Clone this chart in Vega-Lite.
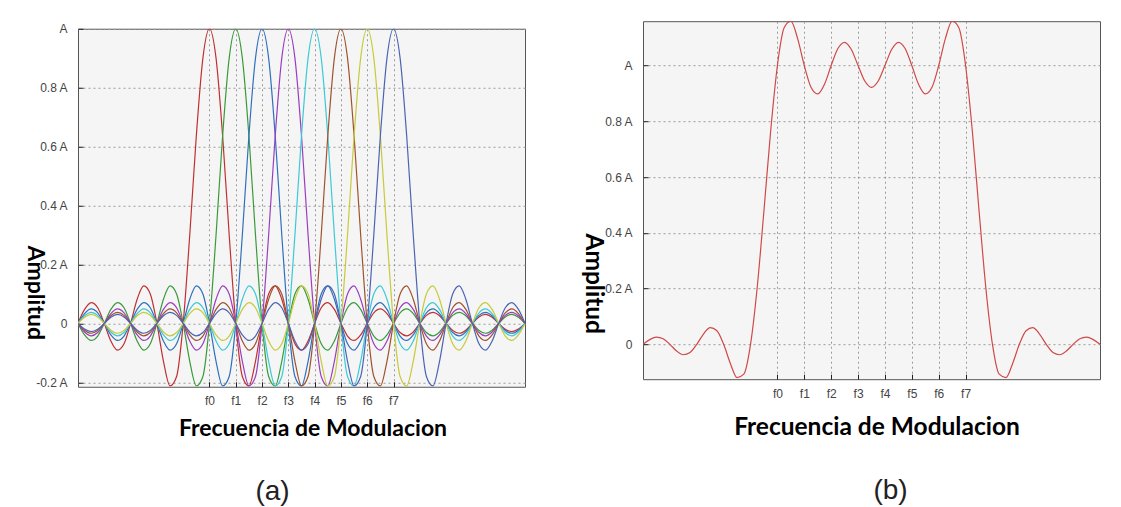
{
  "$schema": "https://vega.github.io/schema/vega-lite/v6.json",
  "background": "white",
  "padding": {"left": 21, "top": 20, "right": 5, "bottom": 0},
  "spacing": 54,
  "center": true,
  "config": {
    "font": "Liberation Sans",
    "view": {"fill": "#f4f5f4", "stroke": "#555", "strokeWidth": 1},
    "axis": {
      "domain": false,
      "labelFont": "Liberation Sans",
      "labelFontSize": 12,
      "labelColor": "#444",
      "tickColor": "#222",
      "tickSize": -5,
      "gridColor": "#9a9a9a",
      "gridDash": [2, 3],
      "gridWidth": 1,
      "titleFont": "Lato",
      "titleFontWeight": "bold",
      "titleColor": "#000"
    }
  },
  "resolve": {"scale": {"x": "independent", "y": "independent", "color": "independent"}},
  "datasets": {
    "d": [
      {"x": -5, "y0": 0, "y1": 0, "y2": 0, "y3": 0, "y4": 0, "y5": 0, "y6": 0, "y7": 0, "s": 0},
      {"x": -4.75, "y0": 0.0474, "y1": -0.0391, "y2": 0.0333, "y3": -0.029, "y4": 0.0257, "y5": -0.0231, "y6": 0.0209, "y7": -0.0192, "s": 0.017},
      {"x": -4.5, "y0": 0.0707, "y1": -0.0579, "y2": 0.049, "y3": -0.0424, "y4": 0.0374, "y5": -0.0335, "y6": 0.0303, "y7": -0.0277, "s": 0.026},
      {"x": -4.25, "y0": 0.053, "y1": -0.0429, "y2": 0.036, "y3": -0.031, "y4": 0.0273, "y5": -0.0243, "y6": 0.022, "y7": -0.02, "s": 0.02},
      {"x": -4, "y0": 0, "y1": 0, "y2": 0, "y3": 0, "y4": 0, "y5": 0, "y6": 0, "y7": 0, "s": 0},
      {"x": -3.75, "y0": -0.06, "y1": 0.0474, "y2": -0.0391, "y3": 0.0333, "y4": -0.029, "y5": 0.0257, "y6": -0.0231, "y7": 0.0209, "s": -0.0239},
      {"x": -3.5, "y0": -0.0909, "y1": 0.0707, "y2": -0.0579, "y3": 0.049, "y4": -0.0424, "y5": 0.0374, "y6": -0.0335, "y7": 0.0303, "s": -0.0373},
      {"x": -3.25, "y0": -0.0693, "y1": 0.053, "y2": -0.0429, "y3": 0.036, "y4": -0.031, "y5": 0.0273, "y6": -0.0243, "y7": 0.022, "s": -0.0293},
      {"x": -3, "y0": 0, "y1": 0, "y2": 0, "y3": 0, "y4": 0, "y5": 0, "y6": 0, "y7": 0, "s": 0},
      {"x": -2.75, "y0": 0.0818, "y1": -0.06, "y2": 0.0474, "y3": -0.0391, "y4": 0.0333, "y5": -0.029, "y6": 0.0257, "y7": -0.0231, "s": 0.037},
      {"x": -2.5, "y0": 0.1273, "y1": -0.0909, "y2": 0.0707, "y3": -0.0579, "y4": 0.049, "y5": -0.0424, "y6": 0.0374, "y7": -0.0335, "s": 0.0597},
      {"x": -2.25, "y0": 0.1, "y1": -0.0693, "y2": 0.053, "y3": -0.0429, "y4": 0.036, "y5": -0.031, "y6": 0.0273, "y7": -0.0243, "s": 0.0488},
      {"x": -2, "y0": 0, "y1": 0, "y2": 0, "y3": 0, "y4": 0, "y5": 0, "y6": 0, "y7": 0, "s": 0},
      {"x": -1.75, "y0": -0.1286, "y1": 0.0818, "y2": -0.06, "y3": 0.0474, "y4": -0.0391, "y5": 0.0333, "y6": -0.029, "y7": 0.0257, "s": -0.0685},
      {"x": -1.5, "y0": -0.2122, "y1": 0.1273, "y2": -0.0909, "y3": 0.0707, "y4": -0.0579, "y5": 0.049, "y6": -0.0424, "y7": 0.0374, "s": -0.119},
      {"x": -1.25, "y0": -0.1801, "y1": 0.1, "y2": -0.0693, "y3": 0.053, "y4": -0.0429, "y5": 0.036, "y6": -0.031, "y7": 0.0273, "s": -0.107},
      {"x": -1, "y0": 0, "y1": 0, "y2": 0, "y3": 0, "y4": 0, "y5": 0, "y6": 0, "y7": 0, "s": 0},
      {"x": -0.75, "y0": 0.3001, "y1": -0.1286, "y2": 0.0818, "y3": -0.06, "y4": 0.0474, "y5": -0.0391, "y6": 0.0333, "y7": -0.029, "s": 0.2059},
      {"x": -0.5, "y0": 0.6366, "y1": -0.2122, "y2": 0.1273, "y3": -0.0909, "y4": 0.0707, "y5": -0.0579, "y6": 0.049, "y7": -0.0424, "s": 0.4802},
      {"x": -0.25, "y0": 0.9003, "y1": -0.1801, "y2": 0.1, "y3": -0.0693, "y4": 0.053, "y5": -0.0429, "y6": 0.036, "y7": -0.031, "s": 0.7661},
      {"x": 0, "y0": 1, "y1": 0, "y2": 0, "y3": 0, "y4": 0, "y5": 0, "y6": 0, "y7": 0, "s": 1},
      {"x": 0.25, "y0": 0.9003, "y1": 0.3001, "y2": -0.1286, "y3": 0.0818, "y4": -0.06, "y5": 0.0474, "y6": -0.0391, "y7": 0.0333, "s": 1.1352},
      {"x": 0.5, "y0": 0.6366, "y1": 0.6366, "y2": -0.2122, "y3": 0.1273, "y4": -0.0909, "y5": 0.0707, "y6": -0.0579, "y7": 0.049, "s": 1.1592},
      {"x": 0.75, "y0": 0.3001, "y1": 0.9003, "y2": -0.1801, "y3": 0.1, "y4": -0.0693, "y5": 0.053, "y6": -0.0429, "y7": 0.036, "s": 1.0973},
      {"x": 1, "y0": 0, "y1": 1, "y2": 0, "y3": 0, "y4": 0, "y5": 0, "y6": 0, "y7": 0, "s": 1},
      {"x": 1.25, "y0": -0.1801, "y1": 0.9003, "y2": 0.3001, "y3": -0.1286, "y4": 0.0818, "y5": -0.06, "y6": 0.0474, "y7": -0.0391, "s": 0.9218},
      {"x": 1.5, "y0": -0.2122, "y1": 0.6366, "y2": 0.6366, "y3": -0.2122, "y4": 0.1273, "y5": -0.0909, "y6": 0.0707, "y7": -0.0579, "s": 0.8981},
      {"x": 1.75, "y0": -0.1286, "y1": 0.3001, "y2": 0.9003, "y3": -0.1801, "y4": 0.1, "y5": -0.0693, "y6": 0.053, "y7": -0.0429, "s": 0.9326},
      {"x": 2, "y0": 0, "y1": 0, "y2": 1, "y3": 0, "y4": 0, "y5": 0, "y6": 0, "y7": 0, "s": 1},
      {"x": 2.25, "y0": 0.1, "y1": -0.1801, "y2": 0.9003, "y3": 0.3001, "y4": -0.1286, "y5": 0.0818, "y6": -0.06, "y7": 0.0474, "s": 1.061},
      {"x": 2.5, "y0": 0.1273, "y1": -0.2122, "y2": 0.6366, "y3": 0.6366, "y4": -0.2122, "y5": 0.1273, "y6": -0.0909, "y7": 0.0707, "s": 1.0833},
      {"x": 2.75, "y0": 0.0818, "y1": -0.1286, "y2": 0.3001, "y3": 0.9003, "y4": -0.1801, "y5": 0.1, "y6": -0.0693, "y7": 0.053, "s": 1.0573},
      {"x": 3, "y0": 0, "y1": 0, "y2": 0, "y3": 1, "y4": 0, "y5": 0, "y6": 0, "y7": 0, "s": 1},
      {"x": 3.25, "y0": -0.0693, "y1": 0.1, "y2": -0.1801, "y3": 0.9003, "y4": 0.3001, "y5": -0.1286, "y6": 0.0818, "y7": -0.06, "s": 0.9444},
      {"x": 3.5, "y0": -0.0909, "y1": 0.1273, "y2": -0.2122, "y3": 0.6366, "y4": 0.6366, "y5": -0.2122, "y6": 0.1273, "y7": -0.0909, "s": 0.9216},
      {"x": 3.75, "y0": -0.06, "y1": 0.0818, "y2": -0.1286, "y3": 0.3001, "y4": 0.9003, "y5": -0.1801, "y6": 0.1, "y7": -0.0693, "s": 0.9444},
      {"x": 4, "y0": 0, "y1": 0, "y2": 0, "y3": 0, "y4": 1, "y5": 0, "y6": 0, "y7": 0, "s": 1},
      {"x": 4.25, "y0": 0.053, "y1": -0.0693, "y2": 0.1, "y3": -0.1801, "y4": 0.9003, "y5": 0.3001, "y6": -0.1286, "y7": 0.0818, "s": 1.0573},
      {"x": 4.5, "y0": 0.0707, "y1": -0.0909, "y2": 0.1273, "y3": -0.2122, "y4": 0.6366, "y5": 0.6366, "y6": -0.2122, "y7": 0.1273, "s": 1.0833},
      {"x": 4.75, "y0": 0.0474, "y1": -0.06, "y2": 0.0818, "y3": -0.1286, "y4": 0.3001, "y5": 0.9003, "y6": -0.1801, "y7": 0.1, "s": 1.061},
      {"x": 5, "y0": 0, "y1": 0, "y2": 0, "y3": 0, "y4": 0, "y5": 1, "y6": 0, "y7": 0, "s": 1},
      {"x": 5.25, "y0": -0.0429, "y1": 0.053, "y2": -0.0693, "y3": 0.1, "y4": -0.1801, "y5": 0.9003, "y6": 0.3001, "y7": -0.1286, "s": 0.9326},
      {"x": 5.5, "y0": -0.0579, "y1": 0.0707, "y2": -0.0909, "y3": 0.1273, "y4": -0.2122, "y5": 0.6366, "y6": 0.6366, "y7": -0.2122, "s": 0.8981},
      {"x": 5.75, "y0": -0.0391, "y1": 0.0474, "y2": -0.06, "y3": 0.0818, "y4": -0.1286, "y5": 0.3001, "y6": 0.9003, "y7": -0.1801, "s": 0.9218},
      {"x": 6, "y0": 0, "y1": 0, "y2": 0, "y3": 0, "y4": 0, "y5": 0, "y6": 1, "y7": 0, "s": 1},
      {"x": 6.25, "y0": 0.036, "y1": -0.0429, "y2": 0.053, "y3": -0.0693, "y4": 0.1, "y5": -0.1801, "y6": 0.9003, "y7": 0.3001, "s": 1.0973},
      {"x": 6.5, "y0": 0.049, "y1": -0.0579, "y2": 0.0707, "y3": -0.0909, "y4": 0.1273, "y5": -0.2122, "y6": 0.6366, "y7": 0.6366, "s": 1.1592},
      {"x": 6.75, "y0": 0.0333, "y1": -0.0391, "y2": 0.0474, "y3": -0.06, "y4": 0.0818, "y5": -0.1286, "y6": 0.3001, "y7": 0.9003, "s": 1.1352},
      {"x": 7, "y0": 0, "y1": 0, "y2": 0, "y3": 0, "y4": 0, "y5": 0, "y6": 0, "y7": 1, "s": 1},
      {"x": 7.25, "y0": -0.031, "y1": 0.036, "y2": -0.0429, "y3": 0.053, "y4": -0.0693, "y5": 0.1, "y6": -0.1801, "y7": 0.9003, "s": 0.7661},
      {"x": 7.5, "y0": -0.0424, "y1": 0.049, "y2": -0.0579, "y3": 0.0707, "y4": -0.0909, "y5": 0.1273, "y6": -0.2122, "y7": 0.6366, "s": 0.4802},
      {"x": 7.75, "y0": -0.029, "y1": 0.0333, "y2": -0.0391, "y3": 0.0474, "y4": -0.06, "y5": 0.0818, "y6": -0.1286, "y7": 0.3001, "s": 0.2059},
      {"x": 8, "y0": 0, "y1": 0, "y2": 0, "y3": 0, "y4": 0, "y5": 0, "y6": 0, "y7": 0, "s": 0},
      {"x": 8.25, "y0": 0.0273, "y1": -0.031, "y2": 0.036, "y3": -0.0429, "y4": 0.053, "y5": -0.0693, "y6": 0.1, "y7": -0.1801, "s": -0.107},
      {"x": 8.5, "y0": 0.0374, "y1": -0.0424, "y2": 0.049, "y3": -0.0579, "y4": 0.0707, "y5": -0.0909, "y6": 0.1273, "y7": -0.2122, "s": -0.119},
      {"x": 8.75, "y0": 0.0257, "y1": -0.029, "y2": 0.0333, "y3": -0.0391, "y4": 0.0474, "y5": -0.06, "y6": 0.0818, "y7": -0.1286, "s": -0.0685},
      {"x": 9, "y0": 0, "y1": 0, "y2": 0, "y3": 0, "y4": 0, "y5": 0, "y6": 0, "y7": 0, "s": 0},
      {"x": 9.25, "y0": -0.0243, "y1": 0.0273, "y2": -0.031, "y3": 0.036, "y4": -0.0429, "y5": 0.053, "y6": -0.0693, "y7": 0.1, "s": 0.0488},
      {"x": 9.5, "y0": -0.0335, "y1": 0.0374, "y2": -0.0424, "y3": 0.049, "y4": -0.0579, "y5": 0.0707, "y6": -0.0909, "y7": 0.1273, "s": 0.0597},
      {"x": 9.75, "y0": -0.0231, "y1": 0.0257, "y2": -0.029, "y3": 0.0333, "y4": -0.0391, "y5": 0.0474, "y6": -0.06, "y7": 0.0818, "s": 0.037},
      {"x": 10, "y0": 0, "y1": 0, "y2": 0, "y3": 0, "y4": 0, "y5": 0, "y6": 0, "y7": 0, "s": 0},
      {"x": 10.25, "y0": 0.022, "y1": -0.0243, "y2": 0.0273, "y3": -0.031, "y4": 0.036, "y5": -0.0429, "y6": 0.053, "y7": -0.0693, "s": -0.0293},
      {"x": 10.5, "y0": 0.0303, "y1": -0.0335, "y2": 0.0374, "y3": -0.0424, "y4": 0.049, "y5": -0.0579, "y6": 0.0707, "y7": -0.0909, "s": -0.0373},
      {"x": 10.75, "y0": 0.0209, "y1": -0.0231, "y2": 0.0257, "y3": -0.029, "y4": 0.0333, "y5": -0.0391, "y6": 0.0474, "y7": -0.06, "s": -0.0239},
      {"x": 11, "y0": 0, "y1": 0, "y2": 0, "y3": 0, "y4": 0, "y5": 0, "y6": 0, "y7": 0, "s": 0},
      {"x": 11.25, "y0": -0.02, "y1": 0.022, "y2": -0.0243, "y3": 0.0273, "y4": -0.031, "y5": 0.036, "y6": -0.0429, "y7": 0.053, "s": 0.02},
      {"x": 11.5, "y0": -0.0277, "y1": 0.0303, "y2": -0.0335, "y3": 0.0374, "y4": -0.0424, "y5": 0.049, "y6": -0.0579, "y7": 0.0707, "s": 0.026},
      {"x": 11.75, "y0": -0.0192, "y1": 0.0209, "y2": -0.0231, "y3": 0.0257, "y4": -0.029, "y5": 0.0333, "y6": -0.0391, "y7": 0.0474, "s": 0.017},
      {"x": 12, "y0": 0, "y1": 0, "y2": 0, "y3": 0, "y4": 0, "y5": 0, "y6": 0, "y7": 0, "s": 0}
    ]
  },
  "hconcat": [
    {
      "width": 447,
      "height": 358,
      "data": {"name": "d"},
      "title": {"text": "(a)", "orient": "bottom", "frame": "group", "anchor": "middle", "offset": 59, "dx": -29, "baseline": "alphabetic", "fontSize": 28, "font": "Liberation Sans", "fontWeight": "normal", "color": "#222"},
      "transform": [{"fold": ["y0", "y1", "y2", "y3", "y4", "y5", "y6", "y7"], "as": ["curve", "y"]}],
      "mark": {"type": "line", "interpolate": "monotone", "strokeWidth": 1.2, "clip": true},
      "encoding": {
        "x": {
          "field": "x", "type": "quantitative",
          "scale": {"domain": [-5, 12], "nice": false, "zero": false},
          "axis": {"values": [0, 1, 2, 3, 4, 5, 6, 7], "labelExpr": "'f' + datum.value", "grid": true, "labelPadding": 14,
                   "title": "Frecuencia de Modulacion", "titleFontSize": 23, "titleX": 234.5, "titleY": 49, "titleAlign": "center", "titleBaseline": "alphabetic"}
        },
        "y": {
          "field": "y", "type": "quantitative",
          "scale": {"domain": [-0.215, 1], "nice": false, "zero": false},
          "axis": {"values": [-0.2, 0, 0.2, 0.4, 0.6, 0.8, 1], "labelExpr": "datum.value == 1 ? 'A' : datum.value == 0 ? '0' : datum.value < 0 ? '-0.2 A' : format(datum.value, '.1f') + ' A'",
                   "grid": true, "labelPadding": 16,
                   "title": "Amplitud", "titleFontSize": 23, "titleAngle": 90, "titleX": -44, "titleY": 263.5, "titleAlign": "center", "titleBaseline": "middle"}
        },
        "color": {
          "field": "curve", "type": "nominal", "legend": null,
          "scale": {"domain": ["y0", "y1", "y2", "y3", "y4", "y5", "y6", "y7"],
                    "range": ["#c03030", "#3a9a3a", "#2f6fbf", "#9b3dbf", "#3cc9d6", "#a0522d", "#c9c93a", "#4b63b5"]}
        }
      }
    },
    {
      "width": 457,
      "height": 358,
      "data": {"name": "d"},
      "title": {"text": ["(b)", " "], "lineHeight": 8, "orient": "bottom", "frame": "group", "anchor": "middle", "offset": 60.6, "dx": 19, "baseline": "alphabetic", "fontSize": 28, "font": "Liberation Sans", "fontWeight": "normal", "color": "#222"},
      "mark": {"type": "line", "interpolate": "monotone", "strokeWidth": 1.2, "color": "#d04848", "clip": true},
      "encoding": {
        "x": {
          "field": "x", "type": "quantitative",
          "scale": {"domain": [-5, 12], "nice": false, "zero": false},
          "axis": {"values": [0, 1, 2, 3, 4, 5, 6, 7], "labelExpr": "'f' + datum.value", "grid": true, "labelPadding": 14,
                   "title": "Frecuencia de Modulacion", "titleFontSize": 24.5, "titleX": 233.5, "titleY": 55, "titleAlign": "center", "titleBaseline": "alphabetic"}
        },
        "y": {
          "field": "s", "type": "quantitative",
          "scale": {"domain": [-0.125, 1.159], "nice": false, "zero": false},
          "axis": {"values": [0, 0.2, 0.4, 0.6, 0.8, 1], "labelExpr": "datum.value == 1 ? 'A' : datum.value == 0 ? '0' : format(datum.value, '.1f') + ' A'",
                   "grid": true, "labelPadding": 16,
                   "title": "Amplitud", "titleFontSize": 24.5, "titleAngle": 90, "titleX": -51, "titleY": 262, "titleAlign": "center", "titleBaseline": "middle"}
        }
      }
    }
  ]
}
